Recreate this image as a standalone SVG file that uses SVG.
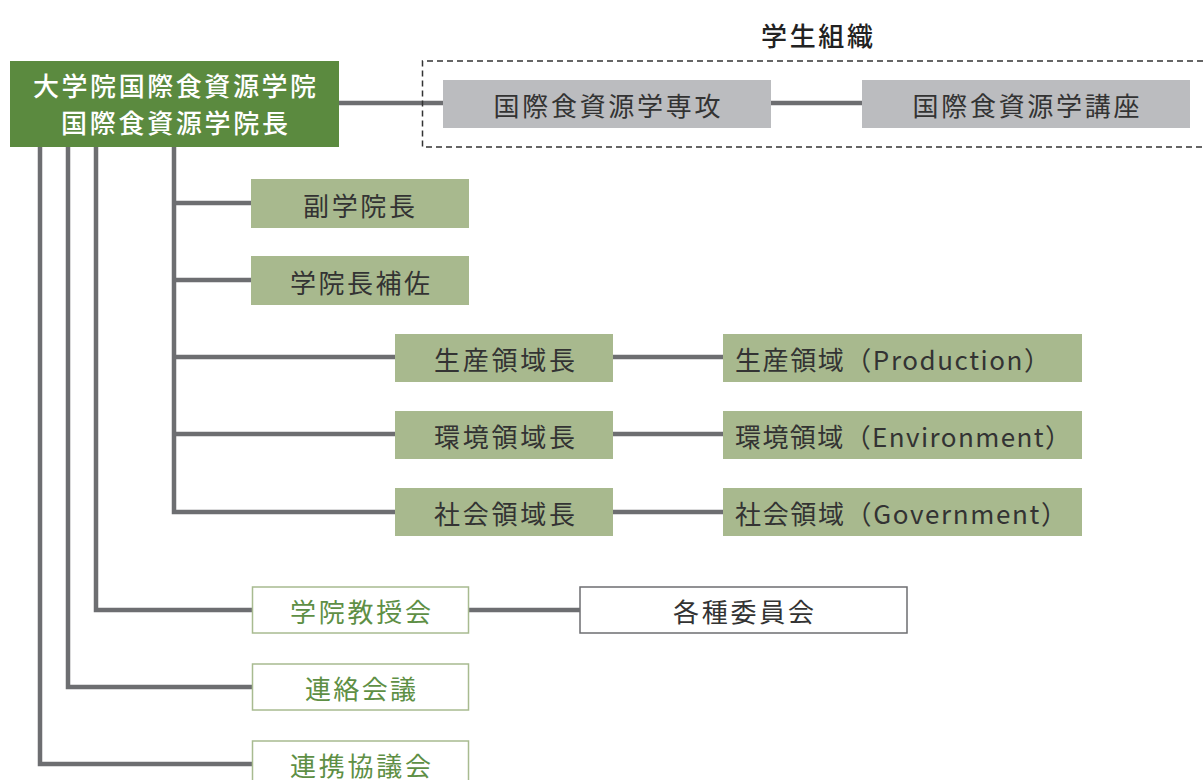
<svg xmlns="http://www.w3.org/2000/svg" width="1203" height="780" viewBox="0 0 1203 780">
<style>
text{font-family:"Noto Sans CJK JP","Noto Sans",sans-serif;text-anchor:middle;dominant-baseline:central;}
.lbl{font-size:26px;fill:#333;}
.fill{fill:#a8b98e;}
.gray{fill:#bbbcbf;}
.out{fill:#fff;stroke:#a8bb90;stroke-width:1.5;}
.gl{font-size:26px;fill:#5e8f45;}
.con{stroke:#6d6e71;stroke-width:4.5;fill:none;}
</style>
<rect width="1203" height="780" fill="#fff"/>
<text x="817" y="34" textLength="112" lengthAdjust="spacing" style="font-size:26px;fill:#222;font-weight:500">学生組織</text>
<g id="connectors">
<line class="con" x1="339" y1="103" x2="443" y2="103"/>
<line class="con" x1="771" y1="103" x2="862" y2="103"/>
<polyline class="con" points="174,147 174,512 395,512"/>
<line class="con" x1="174" y1="203" x2="251" y2="203"/>
<line class="con" x1="174" y1="280" x2="251" y2="280"/>
<line class="con" x1="174" y1="357" x2="395" y2="357"/>
<line class="con" x1="174" y1="434" x2="395" y2="434"/>
<line class="con" x1="612" y1="357" x2="723" y2="357"/>
<line class="con" x1="612" y1="434" x2="723" y2="434"/>
<line class="con" x1="612" y1="512" x2="723" y2="512"/>
<polyline class="con" points="96,147 96,610 252,610"/>
<polyline class="con" points="68,147 68,687 252,687"/>
<polyline class="con" points="40,147 40,764 252,764"/>
<line class="con" x1="469" y1="610" x2="580" y2="610"/>
</g>
<g id="student-org">
<path d="M1203,61 H422.5 V147 H1203" fill="none" stroke="#333" stroke-width="1.5" stroke-dasharray="6 4"/>
</g>
<g id="dean">
<rect x="10" y="61" width="329" height="86" fill="#5b8a3f"/>
<text x="174.5" y="84" textLength="283" lengthAdjust="spacing" style="font-size:26px;fill:#fff;font-weight:500">大学院国際食資源学院</text>
<text x="174.5" y="121" textLength="227" lengthAdjust="spacing" style="font-size:26px;fill:#fff;font-weight:500">国際食資源学院長</text>
</g>
<g id="major">
<rect class="gray" x="443" y="80" width="328" height="48"/>
<text class="lbl" x="607" y="104" textLength="227" lengthAdjust="spacing">国際食資源学専攻</text>
</g>
<g id="course">
<rect class="gray" x="862" y="80" width="328" height="48"/>
<text class="lbl" x="1026" y="104" textLength="227" lengthAdjust="spacing">国際食資源学講座</text>
</g>
<g id="vice-dean">
<rect class="fill" x="251" y="179" width="218" height="49"/>
<text class="lbl" x="359" y="204" textLength="112" lengthAdjust="spacing">副学院長</text>
</g>
<g id="dean-assistant">
<rect class="fill" x="251" y="256" width="218" height="49"/>
<text class="lbl" x="360" y="281" textLength="140" lengthAdjust="spacing">学院長補佐</text>
</g>
<g id="prod-head">
<rect class="fill" x="395" y="334" width="218" height="48"/>
<text class="lbl" x="504.5" y="358" textLength="141" lengthAdjust="spacing">生産領域長</text>
</g>
<g id="env-head">
<rect class="fill" x="395" y="411" width="218" height="48"/>
<text class="lbl" x="504.5" y="435" textLength="141" lengthAdjust="spacing">環境領域長</text>
</g>
<g id="gov-head">
<rect class="fill" x="395" y="488" width="218" height="48"/>
<text class="lbl" x="504.5" y="512" textLength="141" lengthAdjust="spacing">社会領域長</text>
</g>
<g id="prod">
<rect class="fill" x="723" y="334" width="359" height="48"/>
<text class="lbl" x="735" y="358" textLength="315" lengthAdjust="spacing" style="text-anchor:start">生産領域（Production）</text>
</g>
<g id="env">
<rect class="fill" x="723" y="411" width="359" height="48"/>
<text class="lbl" x="735" y="435" textLength="336" lengthAdjust="spacing" style="text-anchor:start">環境領域（Environment）</text>
</g>
<g id="gov">
<rect class="fill" x="723" y="488" width="359" height="48"/>
<text class="lbl" x="735" y="512" textLength="332" lengthAdjust="spacing" style="text-anchor:start">社会領域（Government）</text>
</g>
<g id="faculty">
<rect class="out" x="252.5" y="587" width="216" height="46"/>
<text class="gl" x="360.5" y="610" textLength="141" lengthAdjust="spacing">学院教授会</text>
</g>
<g id="committees">
<rect x="580" y="587" width="327" height="46" fill="#fff" stroke="#6d6e71" stroke-width="1.5"/>
<text class="lbl" x="743.5" y="610" textLength="141" lengthAdjust="spacing">各種委員会</text>
</g>
<g id="liaison">
<rect class="out" x="252.5" y="664" width="216" height="46"/>
<text class="gl" x="360.5" y="687" textLength="111" lengthAdjust="spacing">連絡会議</text>
</g>
<g id="council">
<rect class="out" x="252.5" y="741" width="216" height="46"/>
<text class="gl" x="360.5" y="764" textLength="141" lengthAdjust="spacing">連携協議会</text>
</g>
</svg>
